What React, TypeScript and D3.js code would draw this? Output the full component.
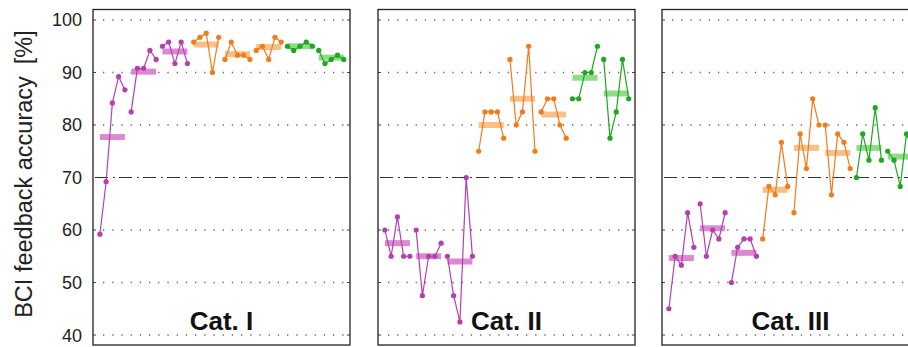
import React from "react";
import * as d3 from "d3";

const W = 908;
const H = 347;

const categories = ["Cat. I", "Cat. II", "Cat. III"];
const yTicks = [40, 50, 60, 70, 80, 90, 100];
const yLabel = "BCI feedback accuracy";
const yUnit = "[%]";
const threshold = 70;

// groups of 5 sessions; groups 0-2 purple, 3-5 orange, 6-7 green
const groupColorIdx = [0, 0, 0, 1, 1, 1, 2, 2];

const catI = [
  [59.2, 69.2, 84.2, 89.2, 86.7],
  [82.5, 90.8, 90.8, 94.2, 92.5],
  [95.0, 95.8, 91.7, 95.8, 91.7],
  [95.8, 96.7, 97.5, 90.0, 96.7],
  [92.5, 95.8, 93.3, 93.3, 92.5],
  [94.2, 95.0, 92.5, 96.7, 95.8],
  [95.0, 94.2, 95.0, 95.8, 95.0],
  [94.2, 91.7, 92.5, 93.3, 92.5],
];
const catII = [
  [60, 55, 62.5, 55, 55],
  [60, 47.5, 55, 55, 57.5],
  [55, 47.5, 42.5, 70, 55],
  [75, 82.5, 82.5, 82.5, 77.5],
  [92.5, 80, 82.5, 95, 75],
  [82.5, 85, 85, 80, 77.5],
  [85, 85, 90, 90, 95],
  [92.5, 77.5, 82.5, 92.5, 85],
];
const catIII = [
  [45, 55, 53.3, 63.3, 56.7],
  [65, 55, 60, 58.3, 63.3],
  [50, 56.7, 58.3, 58.3, 55],
  [58.3, 68.3, 66.7, 76.7, 68.3],
  [63.3, 78.3, 71.7, 85, 80],
  [80, 66.7, 78.3, 76.7, 71.7],
  [70, 78.3, 73.3, 83.3, 73.3],
  [75, 73.3, 68.3, 78.3, 75],
];
const panelsData = [catI, catII, catIII];

const pointColors = ["#b63fb0", "#f27b1c", "#1ea81e"];
const barColors = ["#d98ad0", "#fbbf87", "#8fdb88"];

const panelLeft = [93, 378, 662];
const panelW = 257;
const top = 9.5;
const bottom = 345;
const font = "'Liberation Sans', Arial, Helvetica, sans-serif";

export default function App() {
  const y = d3.scaleLinear().domain([38.1, 102]).range([bottom, top]);
  const line = d3.line<number>();

  return (
    <div style={{ position: "absolute", left: 0, top: 0 }}>
      <svg width={W} height={H} style={{ display: "block", background: "#fff" }}>
        {panelsData.map((groups, pi) => {
          const x0 = panelLeft[pi];
          const x = d3.scaleLinear().domain([-1.1, 40]).range([x0, x0 + panelW]);
          return (
            <g key={pi}>
              {/* grid */}
              {yTicks.map((t) =>
                t === threshold ? (
                  <line key={t} x1={x0 + 2} x2={x0 + panelW} y1={y(t)} y2={y(t)}
                    stroke="#333" strokeWidth={1.1} strokeDasharray="13,5,2,4" />
                ) : (
                  <g key={t}>
                    <line x1={x0 + 10} x2={x0 + panelW} y1={y(t)} y2={y(t)}
                      stroke="#666" strokeWidth={1.3} strokeDasharray="1.3,7.9" />
                    <line x1={x0} x2={x0 + 3} y1={y(t)} y2={y(t)} stroke="#444" strokeWidth={1} />
                    <line x1={x0 + panelW - 3} x2={x0 + panelW} y1={y(t)} y2={y(t)} stroke="#444" strokeWidth={1} />
                  </g>
                )
              )}
              {/* mean bars */}
              {groups.map((g, gi) => {
                const m = d3.mean(g) as number;
                const i0 = gi * 5;
                return (
                  <line key={"b" + gi} x1={x(i0)} x2={x(i0 + 4)} y1={y(m)} y2={y(m)}
                    stroke={barColors[groupColorIdx[gi]]} strokeWidth={6} />
                );
              })}
              {/* lines */}
              {groups.map((g, gi) => {
                const pts = g.map((v, k) => [x(gi * 5 + k), y(v)] as [number, number]);
                return (
                  <path key={"l" + gi} d={line(pts) || ""} fill="none"
                    stroke={pointColors[groupColorIdx[gi]]} strokeWidth={1.2} />
                );
              })}
              {/* points */}
              {groups.map((g, gi) =>
                g.map((v, k) => (
                  <circle key={"p" + gi + "-" + k} cx={x(gi * 5 + k)} cy={y(v)} r={2.6}
                    fill={pointColors[groupColorIdx[gi]]} />
                ))
              )}
              {/* frame */}
              <rect x={x0} y={top} width={panelW} height={bottom - top} fill="none"
                stroke="#222" strokeWidth={1.3} />
              <text x={x0 + panelW / 2} y={330} textAnchor="middle" fontFamily={font}
                fontWeight="bold" fontSize={26} fill="#111">
                {categories[pi]}
              </text>
            </g>
          );
        })}
        {/* y tick labels */}
        {yTicks.map((t) => (
          <text key={t} x={82} y={y(t)} dy="0.36em" textAnchor="end" fontFamily={font}
            fontSize={18} fill="#222">
            {t}
          </text>
        ))}
        <text transform={`translate(32,174) rotate(-90)`} textAnchor="middle" fontFamily={font}
          fontSize={23.5} fill="#222">
          {yLabel}
          <tspan dx={12}>{yUnit}</tspan>
        </text>
      </svg>
    </div>
  );
}
